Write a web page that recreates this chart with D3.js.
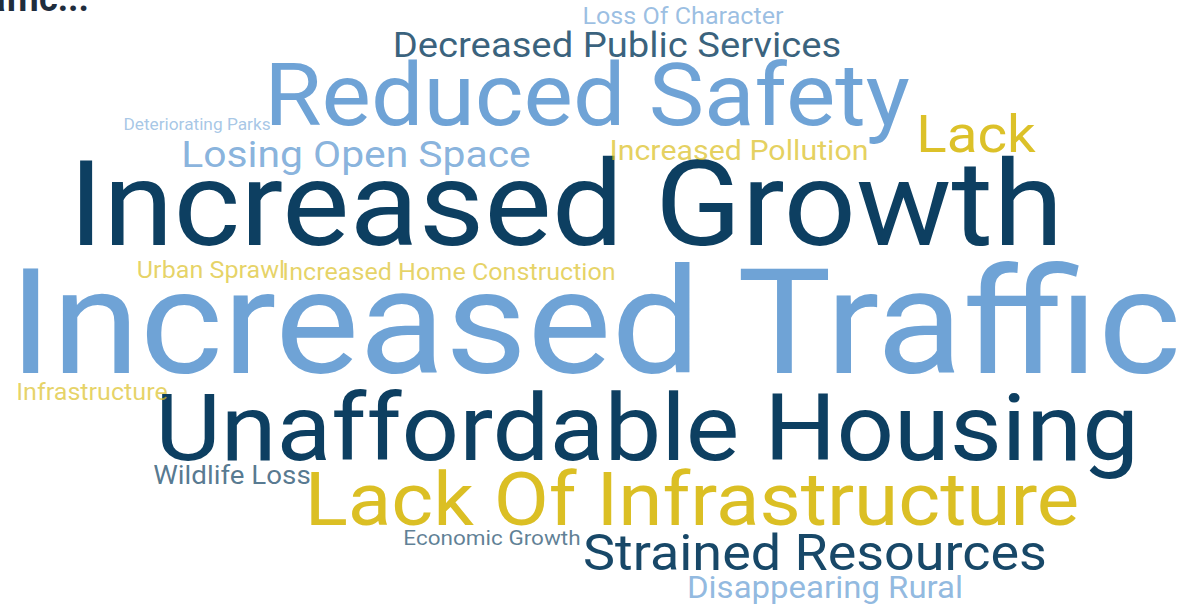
<!DOCTYPE html>
<html lang="en">
<head>
    <meta charset="UTF-8">
    <title>Word cloud</title>
    <script src="https://d3js.org/d3.v7.min.js"></script>
</head>
<style>
    body {
        margin: 0;
        background: white;
        overflow: hidden;
    }
    text {
        font-family: Roboto, "Noto Sans", sans-serif;
    }
</style>
<body>
    <svg id="cloud"></svg>

    <script>
        const width = 1182;
        const height = 604;

    //Data
        const words = [
            "Increased Traffic", "Increased Growth", "Unaffordable Housing", "Reduced Safety",
            "Lack Of Infrastructure", "Lack", "Strained Resources", "Decreased Public Services",
            "Losing Open Space", "Disappearing Rural", "Increased Pollution", "Wildlife Loss",
            "Increased Home Construction", "Urban Sprawl", "Infrastructure", "Loss Of Character",
            "Economic Growth", "Deteriorating Parks"
        ];
        const counts = [60, 48, 38, 35, 30, 21, 20, 14, 15, 12, 11, 10, 9, 9, 9, 9, 8, 6];
        const groups = [
            "blue", "navy", "navy", "blue",
            "gold", "gold", "navy", "navy",
            "blue", "blue", "gold", "navy",
            "gold", "gold", "gold", "blue",
            "navy", "blue"
        ];

    //Cloud layout output (word centre and baseline, relative to cloud centre)
        const placeX = [4, -25, 56, -4, 101, 385, 224, 26, -235, 234, 148, -359, -142, -380, -499, 92, -99, -394];
        const placeY = [71, -57, 158, -177, 223, -150, 268, -245, -135, 296, -142, 182, -22, -24, 98, -278, 243, -172];

        const title = "Traffic...";

    //Scales
        const svg = d3.select("#cloud")
            .attr("width", width)
            .attr("height", height);

        const x = d3.scaleLinear().domain([-width / 2, width / 2]).range([0, width]);
        const y = d3.scaleLinear().domain([-height / 2, height / 2]).range([0, height]);

        const fontSize = d3.scaleLinear()
            .domain([6, 58])
            .range([16, 142]);

        const opacity = d3.scaleLinear()
            .domain([6, 22])
            .range([0.62, 1])
            .clamp(true);

        const colour = d3.scaleOrdinal()
            .domain(["navy", "blue", "gold"])
            .range(["#0d3f61", "#6fa3d6", "#dbbf24"]);

        const stretch = 1.08; // glyphs in the cloud come out a bit wide

        const data = words.map((w, i) => ({
            text: w,
            count: counts[i],
            group: groups[i],
            x: placeX[i],
            y: placeY[i]
        }));

    //Words
        svg.append("g")
            .selectAll("text")
            .data(data)
            .join("text")
            .attr("transform", d => `translate(${x(d.x)},${y(d.y)}) scale(${stretch},1)`)
            .attr("text-anchor", "middle")
            .attr("font-size", d => fontSize(d.count))
            .attr("fill", d => colour(d.group))
            .attr("fill-opacity", d => opacity(d.count))
            .text(d => d.text);

    //Title, mostly scrolled off the top
        svg.append("text")
            .attr("x", 89)
            .attr("y", 11)
            .attr("text-anchor", "end")
            .attr("font-size", 36)
            .attr("font-weight", "bold")
            .attr("fill", "#1f2d3d")
            .text(title);
    </script>
</body>
</html>
